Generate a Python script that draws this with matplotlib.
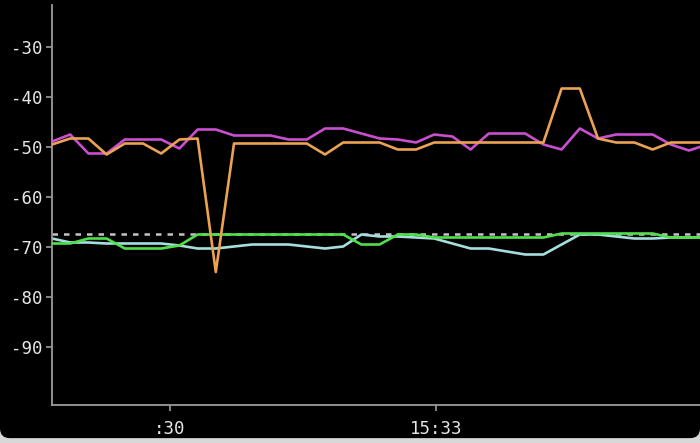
import matplotlib
matplotlib.use("Agg")
import matplotlib.pyplot as plt
from matplotlib.patches import FancyBboxPatch

# ---- data (sample index -> signal level, dBm) ----
samples = list(range(37))
magenta_vals = [-48.9, -47.5, -51.3, -51.3, -48.5, -48.5, -48.5, -50.3, -46.5, -46.5,
                -47.7, -47.7, -47.7, -48.5, -48.5, -46.3, -46.3, -47.3, -48.3, -48.5,
                -49.1, -47.5, -47.9, -50.5, -47.3, -47.3, -47.3, -49.5, -50.5, -46.3,
                -48.3, -47.5, -47.5, -47.5, -49.5, -50.7, -49.5]
orange_vals = [-49.5, -48.3, -48.3, -51.5, -49.3, -49.3, -51.3, -48.5, -48.3, -75.0,
               -49.3, -49.3, -49.3, -49.3, -49.3, -51.5, -49.1, -49.1, -49.1, -50.5,
               -50.5, -49.1, -49.1, -49.1, -49.1, -49.1, -49.1, -49.1, -38.3, -38.3,
               -48.3, -49.1, -49.1, -50.5, -49.1, -49.1, -49.1]
green_vals = [-69.3, -69.3, -68.3, -68.3, -70.3, -70.3, -70.3, -69.7, -67.5, -67.5,
              -67.5, -67.5, -67.5, -67.5, -67.5, -67.5, -67.5, -69.5, -69.5, -67.5,
              -67.5, -68.1, -68.1, -68.1, -68.1, -68.1, -68.1, -68.1, -67.3, -67.3,
              -67.3, -67.3, -67.3, -67.3, -68.1, -68.1, -68.1]
cyan_vals = [-68.3, -69.1, -69.1, -69.3, -69.3, -69.3, -69.3, -69.7, -70.3, -70.3,
             -69.9, -69.5, -69.5, -69.5, -69.9, -70.3, -69.9, -67.5, -67.9, -67.9,
             -68.1, -68.3, -69.3, -70.3, -70.3, -70.9, -71.5, -71.5, -69.5, -67.5,
             -67.5, -67.9, -68.3, -68.3, -68.1, -68.1, -68.0]
threshold = -67.4

y_ticks = [-30, -40, -50, -60, -70, -80, -90]
y_tick_labels = ["-30", "-40", "-50", "-60", "-70", "-80", "-90"]
x_tick_pos = [6.48, 21.1]
x_tick_labels = [":30", "15:33"]

# ---- figure ----
W, H = 700, 443
fig = plt.figure(figsize=(W / 100, H / 100), dpi=100, facecolor="#d8d8d8")
bg = FancyBboxPatch((0.0, 0.011), 1.0, 1.2, boxstyle="round,pad=0,rounding_size=0.014",
                    transform=fig.transFigure, facecolor="black", edgecolor="none",
                    mutation_aspect=W / H, zorder=-10)
fig.patches.append(bg)

ax = fig.add_axes([52 / W, 38 / H, 648 / W, 400 / H])
ax.set_facecolor("black")
ax.set_zorder(1)

ax.axhline(threshold, color="#c4c4c4", lw=1.8, ls=(0, (2.2, 2.4)), zorder=1)
ax.plot(samples, cyan_vals, color="#a6dede", lw=1.9, zorder=2)
ax.plot(samples, green_vals, color="#4fe04c", lw=1.9, zorder=3)
ax.plot(samples, magenta_vals, color="#c94fd0", lw=1.9, zorder=4)
ax.plot(samples, orange_vals, color="#eba252", lw=1.9, zorder=5)

ax.set_xlim(0, 648 / 18.2)
ax.set_ylim(-101.6, -21.6)

for s in ["top", "right"]:
    ax.spines[s].set_visible(False)
for s in ["left", "bottom"]:
    ax.spines[s].set_color("#9a9a9a")
    ax.spines[s].set_linewidth(1.3)

ax.set_yticks(y_ticks)
ax.set_yticklabels(y_tick_labels)
ax.set_xticks(x_tick_pos)
ax.set_xticklabels(x_tick_labels)
ax.tick_params(axis="both", colors="#9a9a9a", length=4, width=1.2,
               labelcolor="#e6e6e6", labelsize=12.5)
ax.tick_params(axis="y", pad=3)
ax.tick_params(axis="x", pad=7)
for lab in ax.get_xticklabels() + ax.get_yticklabels():
    lab.set_fontfamily("DejaVu Sans Mono")

fig.savefig("out.png", dpi=100, facecolor=fig.get_facecolor())
